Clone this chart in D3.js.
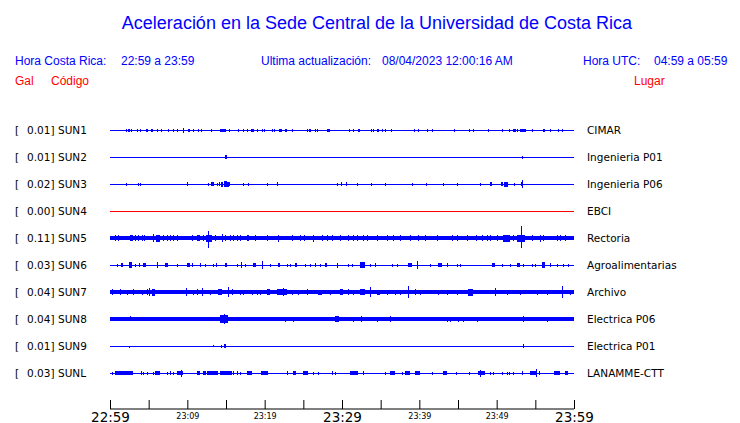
<!DOCTYPE html>
<html><head><meta charset="utf-8">
<script src="https://cdn.jsdelivr.net/npm/d3@7"></script>
<style>body{margin:0;background:#fff}svg{display:block}</style>
</head><body>
<script>
// ---------- DATA ----------
const codes  = ["SUN1","SUN2","SUN3","SUN4","SUN5","SUN6","SUN7","SUN8","SUN9","SUNL"];
const galMax = ["0.01","0.01","0.02","0.00","0.11","0.03","0.04","0.04","0.01","0.03"];
const places = ["CIMAR","Ingenieria P01","Ingenieria P06","EBCI","Rectoria","Agroalimentarias","Archivo","Electrica P06","Electrica P01","LANAMME-CTT"];
// background noise half-amplitude of each trace
const noiseLevel = [0.5,0.5,0.5,0.5,1.8,0.5,1.8,2.0,0.5,0.5];
// bursts: [minute since 22:59, half-amplitude, duration (min), optional lower amplitude]
const sun1 = [[2.03,1.5,0],[2.29,1.5,0.3],[2.72,1.5,0],[3.53,1.5,0],[3.88,1.5,0],[4.65,1.5,0.3],[5.26,1.5,0.3],[6.04,1.5,0],[6.63,1.5,0],[7.54,1.5,0],[8.11,1.5,0.2],[8.70,1.5,0],[9.48,2.5,0],[10.09,1.5,0.3],[10.77,1.5,0],[11.42,1.5,0],[11.77,1.5,0],[13.10,1.5,0],[14.22,1.5,0.35],[14.65,1.5,0.3],[15.39,1.5,0],[16.59,1.5,0],[17.24,1.5,0],[17.68,1.5,0],[18.19,1.5,0.25],[18.53,1.5,0],[18.97,1.5,0],[19.62,1.5,0],[19.91,1.5,0],[20.99,1.5,0],[21.24,1.5,0],[21.89,1.5,0.35],[22.63,1.5,0.2],[23.57,1.5,0],[25.43,1.5,0],[25.73,1.5,0.25],[26.47,1.5,0],[26.73,1.5,0],[28.10,1.5,0.3],[30.94,1.5,0],[31.38,1.5,0],[32.07,1.5,0.3],[33.71,1.5,0],[33.97,1.5,0],[34.48,1.5,0.3],[35.13,1.5,0],[35.56,1.5,0],[36.37,1.5,0],[39.35,1.5,0],[39.86,1.5,0],[40.95,1.5,0],[41.60,1.5,0],[44.52,1.5,0],[46.46,1.5,0],[46.90,1.5,0],[48.92,1.5,0],[50.73,1.5,0],[51.63,1.5,0],[52.15,1.5,0.3],[52.59,1.5,0],[53.05,1.5,0.74],[54.53,1.5,0],[55.95,1.5,0.3],[56.89,1.5,0],[57.89,1.5,0],[58.48,1.5,0]];
const sun2 = [[14.83,2,0.25],[53.31,1.5,0]];
const sun3 = [[2.03,1.5,0],[3.66,1.5,0],[3.92,1.5,0],[9.92,2,0],[12.71,1.5,0],[13.10,2,0.3],[13.80,1.5,0],[14.09,2,0],[14.31,2.5,0.2],[14.48,2.5,0],[14.78,3,0.4],[15.09,2.5,0.3],[15.35,2,0.2],[17.16,1.5,0],[17.88,1.5,0],[20.26,1.5,0],[21.63,2,0],[29.39,1.5,0],[29.83,2,0],[30.51,2,0],[31.98,1.5,0],[33.71,1.5,0],[35.60,1.5,0],[39.09,1.5,0],[40.82,1.5,0],[43.10,1.5,0],[44.91,1.5,0],[47.88,1.5,0],[49.13,2,0.3],[50.56,2,0.2],[50.94,2.5,0.55],[52.27,1.5,0],[53.14,2,0],[53.31,4,0]];
const sun4 = [];
const sun5 = [[0.65,3,0],[1.08,3,0],[2.59,3,0.43],[3.23,3,0],[3.66,3,0],[4.10,3,0],[4.44,3,0],[5.52,4,0],[5.95,3.5,0.52],[6.89,3,0],[7.33,3,0],[7.76,3,0],[8.19,3,0],[8.70,3,0],[10.56,3,0],[11.21,3,0.43],[12.06,3,0],[12.41,3.5,0.73],[12.71,7,0,10],[13.58,3,0],[14.44,4,0],[14.87,3,0],[15.52,3,0],[15.94,3,0],[16.38,3,0],[16.81,3,0],[17.68,3,0.3],[18.75,3,0],[20.26,3,0],[21.76,3.5,0],[23.49,3,0],[24.57,3,0],[25.08,3,0],[26.29,3.5,0],[27.37,3,0],[28.02,3,0],[28.67,3,0],[29.74,3,0],[30.81,3,0],[31.38,3,0],[31.90,3,0],[32.75,3,0],[33.19,3,0],[34.48,3,0],[35.86,3,0],[36.63,3,0],[37.50,3,0],[38.79,3,0],[39.86,3,0],[40.73,3,0],[42.24,3,0],[44.18,3,0],[44.83,3,0],[46.12,3,0],[47.32,3,0],[48.06,3,0],[48.79,3,0],[49.13,3,0],[50.00,3,0],[50.85,3.5,0.86],[52.15,3,0],[52.59,3.5,1.07],[53.10,12,0,10],[54.53,3,0],[55.60,3.5,0],[56.03,3,0],[57.76,3,0],[58.19,3,0],[58.83,3,0]];
const sun6 = [[0.87,1.5,0],[1.38,2,0.3],[2.50,3,0.3],[3.23,1.5,0],[3.79,2,0],[4.31,2,0.3],[6.04,3,0.2],[7.11,2,0.43],[8.62,1.5,0],[10.00,2,0.3],[10.56,2,0.2],[11.64,2,0],[12.28,1.5,0],[13.28,1.5,0],[13.67,2,0.2],[14.87,2,0.2],[16.38,1.5,0],[16.94,3,0],[17.46,1.5,0],[18.53,2,0.3],[19.62,4,0],[20.69,1.5,0],[21.76,2,0.2],[22.85,1.5,0],[23.27,1.5,0],[23.92,2,0.2],[25.21,1.5,0],[25.86,1.5,0],[26.51,2,0],[27.15,1.5,0],[27.80,2,0.2],[29.39,2.5,0],[30.81,1.5,0],[31.25,1.5,0],[32.33,3,0.65],[33.62,1.5,0],[34.27,2,0],[36.42,1.5,0],[37.07,1.5,0],[38.57,2,0.43],[39.66,4,0.2],[41.38,1.5,0],[42.45,2,0.43],[43.54,2,0],[44.83,1.5,0],[45.26,1.5,0],[49.35,2,0.43],[50.65,1.5,0],[51.72,1.5,0],[52.59,2,0.43],[53.44,1.5,0],[54.53,1.5,0],[54.96,1.5,0],[55.82,3,0.43],[56.89,2,0],[57.76,1.5,0],[58.62,1.5,0],[59.26,1.5,0]];
const sun7 = [[0.22,3,0],[1.29,3,0],[2.16,2.5,0],[3.01,3,0],[4.10,2.5,0],[4.74,3,0],[5.08,4,0],[5.39,3.5,0.43],[9.83,4,0],[10.77,2.5,0],[11.21,3,0],[11.86,4,0],[12.93,2.5,0],[14.00,3,0.43],[15.30,5,0],[15.74,3,0],[16.81,2.5,0],[17.24,2.5,0],[18.32,2.5,0],[18.97,2.5,0],[19.40,2.5,0],[20.26,3,0.43],[21.55,3,1.29],[22.41,4,0],[23.49,2.5,0],[24.35,2.5,0],[25.43,3,0],[26.94,2.5,0.43],[28.45,2.5,0],[29.74,3,0.43],[30.81,3,0],[31.46,2.5,0],[32.33,3,0.65],[33.62,5,0],[34.48,2.5,0.43],[35.78,2.5,0],[36.85,2.5,0],[37.50,2.5,0],[38.57,6,0],[39.44,3,0],[40.08,2.5,0],[42.45,2.5,0],[43.54,2.5,0],[44.83,2.5,0],[46.33,3.5,0.65],[49.78,4,0],[51.29,2.5,0],[53.01,2.5,0],[55.17,2.5,0],[56.47,2.5,0],[58.41,6,0],[59.48,2.5,0]];
const sun8 = [[2.59,3,0,2],[14.22,4,1.07],[14.78,5,0],[22.63,2,0,2.5],[23.70,2,0,2.5],[29.09,3,0.56],[31.46,2.5,0],[32.46,3,0],[34.56,2.5,0],[36.21,3,0],[43.54,2.5,0],[43.96,2.5,0],[45.04,2.5,0],[45.69,2.5,0],[47.42,2.5,0],[53.36,3,0],[56.47,2.5,0]];
const sun9 = [[2.50,0.5,0,2],[13.36,1.5,0,0.5],[14.31,1.5,0],[14.74,2,0.2],[53.44,2,0]];
const sunl = [[0.22,1.5,0],[0.65,2,2.37],[3.97,2,0],[4.31,1.5,0],[4.74,1.5,0],[5.52,1.5,0],[5.82,2,0.65],[7.33,1.5,0],[7.76,2,0],[8.11,1.5,0],[8.62,2,0.78],[9.18,3.5,0],[11.21,2,0.43],[11.99,2,0.43],[12.58,2,1.42],[14.22,2,1.51],[15.94,2,0],[16.38,2,0],[16.81,1.5,0],[17.68,2,0.65],[19.53,2,0.86],[22.93,2,0],[23.70,2,0.3],[25.00,2,0.65],[26.29,1.5,0],[26.94,1.5,0],[28.67,2,0],[29.09,1.5,0],[31.03,2,1.07],[32.67,2,0.2],[35.56,1.5,0],[36.21,2,0.65],[37.72,1.5,0],[38.14,2,0.65],[39.44,2,0.65],[41.60,1.5,0],[43.10,2,0.43],[44.74,1.5,0],[46.46,1.5,0],[47.54,2,0.95],[47.84,3.5,0],[49.13,1.5,0],[49.48,1.5,0],[50.65,1.5,0],[51.29,1.5,0],[51.63,1.5,0],[52.15,1.5,0],[53.23,2,0],[54.31,2,0.86],[55.08,4,0],[55.51,2,0],[57.41,2,0.78],[58.83,2,0.43]];
const bursts = [sun1,sun2,sun3,sun4,sun5,sun6,sun7,sun8,sun9,sunl];
const tickMinutes = [0,5,10,15,20,25,30,35,40,45,50,55,60];
const tickLabels  = ["22:59","","23:09","","23:19","","23:29","","23:39","","23:49","","23:59"];
const majorTicks  = ["22:59","23:29","23:59"];

// ---------- DRAW ----------
const W = 740, H = 423;
const svg = d3.select("body").append("svg").attr("width", W).attr("height", H);
const BLUE = "#0000ff", RED = "#ff0000";

const x = d3.scaleLinear().domain([0, 60]).range([110, 574]);
const y = d3.scalePoint().domain(codes).range([130, 373]);
const amp = d3.scaleLinear().domain([0, 1]).range([0, 1]);

// header
svg.append("text").attr("x", 377).attr("y", 29).attr("text-anchor", "middle")
  .attr("font-family", "Liberation Sans, Arial, sans-serif").attr("font-size", 18)
  .attr("fill", BLUE).text("Aceleración en la Sede Central de la Universidad de Costa Rica");
const hdr = [
  ["Hora Costa Rica:", 15, 65, BLUE], ["22:59 a 23:59", 121, 65, BLUE],
  ["Ultima actualización:", 261, 65, BLUE], ["08/04/2023 12:00:16 AM", 382, 65, BLUE],
  ["Hora UTC:", 583, 65, BLUE], ["04:59 a 05:59", 654, 65, BLUE],
  ["Gal", 15, 85, RED], ["Código", 51, 85, RED], ["Lugar", 634, 85, RED]
];
svg.selectAll("text.hdr").data(hdr).join("text").attr("class", "hdr")
  .attr("x", d => d[1]).attr("y", d => d[2])
  .attr("font-family", "Liberation Sans, Arial, sans-serif").attr("font-size", 12)
  .attr("fill", d => d[3]).text(d => d[0]);

// rows
const rows = svg.selectAll("g.row").data(codes).join("g").attr("class", "row")
  .attr("transform", d => `translate(0,${y(d)})`);
const lblFont = "DejaVu Sans, sans-serif";
rows.append("text").attr("x", 15).attr("y", 4).attr("font-family", lblFont).attr("font-size", 10.5).attr("fill", "#000").text("[");
rows.append("text").attr("x", 54.5).attr("y", 4).attr("text-anchor", "end").attr("font-family", lblFont).attr("font-size", 10.5).attr("fill", "#000").text((d, i) => galMax[i] + "]");
rows.append("text").attr("x", 58).attr("y", 4).attr("font-family", lblFont).attr("font-size", 10.5).attr("fill", "#000").text(d => d);
rows.append("text").attr("x", 587).attr("y", 4).attr("font-family", lblFont).attr("font-size", 10.5).attr("fill", "#000").text((d, i) => places[i]);

rows.each(function (code, i) {
  const g = d3.select(this).append("g").attr("shape-rendering", "crispEdges")
    .attr("fill", code === "SUN4" ? RED : BLUE);
  const n = Math.max(0.5, amp(noiseLevel[i]));
  g.append("rect").attr("x", x(0)).attr("width", x(60) - x(0))
    .attr("y", -n).attr("height", Math.max(1, 2 * n));
  g.selectAll("rect.b").data(bursts[i]).join("rect").attr("class", "b")
    .attr("x", d => x(d[0]))
    .attr("width", d => Math.max(1, x(d[0] + d[2]) - x(d[0])))
    .attr("y", d => -amp(d[1]))
    .attr("height", d => amp(d[1]) + amp(d.length > 3 ? d[3] : d[1]));
});

// time axis
const axis = d3.axisBottom(x).tickValues(tickMinutes).tickSize(-9).tickPadding(3)
  .tickFormat((d, i) => tickLabels[i]);
const ax = svg.append("g").attr("transform", "translate(0,409)").call(axis);
ax.select(".domain").attr("d", `M${x(0)},0H${x(60)}`).attr("stroke", "#000");
ax.selectAll(".tick line").attr("stroke", "#000");
ax.selectAll(".tick text").attr("font-family", lblFont).attr("fill", "#000")
  .attr("font-size", (d, i) => majorTicks.includes(tickLabels[i]) ? 13.5 : 8)
  .attr("dy", null)
  .attr("y", (d, i) => majorTicks.includes(tickLabels[i]) ? 12.5 : 9.5);
</script>
</body></html>
